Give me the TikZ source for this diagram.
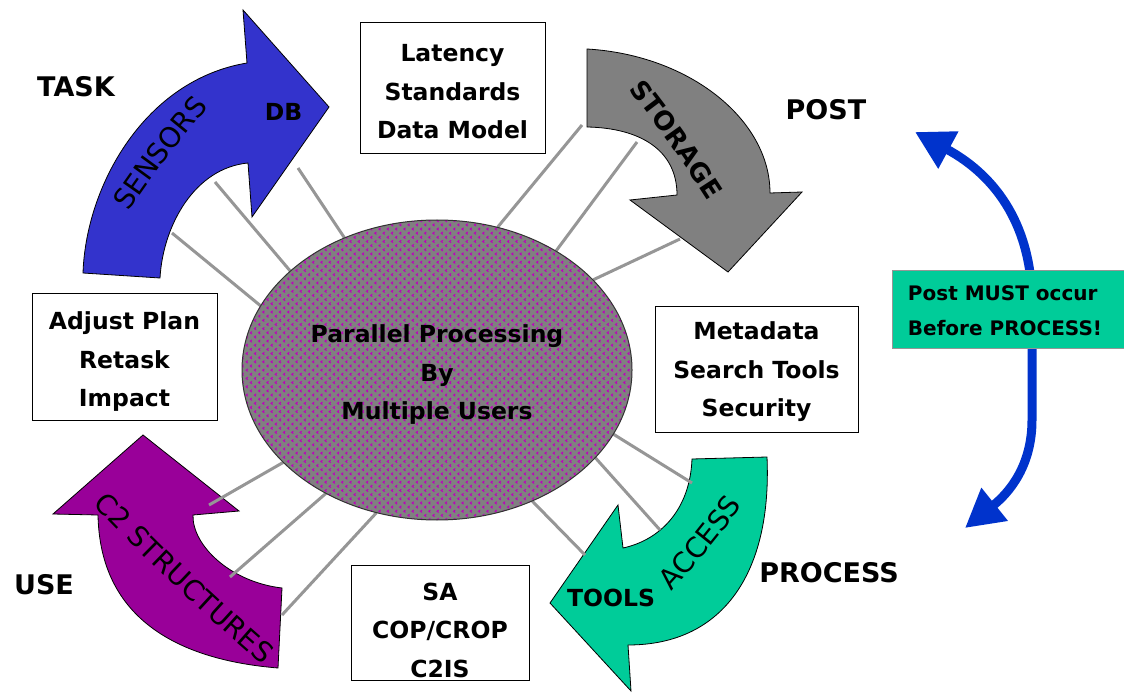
\documentclass[tikz,border=0pt]{standalone}
\usepackage{fontspec}
\setmainfont{DejaVu Sans}
\usetikzlibrary{arrows.meta,patterns.meta,decorations.text,shapes.geometric}

\definecolor{taskblue}{RGB}{51,51,204}
\definecolor{storgray}{RGB}{128,128,128}
\definecolor{usepurple}{RGB}{153,0,153}
\definecolor{procgreen}{RGB}{0,204,153}
\definecolor{linkblue}{RGB}{0,51,204}
\definecolor{spokegray}{RGB}{150,150,150}
\definecolor{dotpurple}{RGB}{190,0,190}

\newcommand\boxtextfont{\fontsize{23.5}{38.5}\selectfont\bfseries}
\newcommand\phaselabelfont{\fontsize{27}{30}\selectfont\bfseries}
\newcommand\bandfont{\fontsize{28}{30}\selectfont}
\newcommand\bandboldfont{\fontsize{26}{30}\selectfont\bfseries}
\newcommand\notefont{\fontsize{20}{35}\selectfont\bfseries}

% small staggered chevrons for the central ellipse
\tikzdeclarepattern{
  name=hubchevrons,
  type=uncolored,
  bottom left={(-0.5pt,-0.5pt)},
  top right={(8.8pt,8.8pt)},
  tile size={(8.3pt,8.3pt)},
  code={
    \draw[line width=1pt] (2.9pt,0.8pt) -- (1.3pt,2pt) -- (2.9pt,3.2pt);
    \draw[line width=1pt] (7.05pt,4.95pt) -- (5.45pt,6.15pt) -- (7.05pt,7.35pt);
  }
}

\begin{document}
\begin{tikzpicture}[x=1pt,y=-1pt,
  band/.style={draw=black, line width=0.8pt, line join=miter},
  spoke/.style={draw=spokegray, line width=3pt},
  infobox/.style={draw=black, line width=0.9pt, fill=white, inner sep=0pt},
  boxtext/.style={align=center, font=\boxtextfont, inner sep=0pt},
  phase/.style={font=\phaselabelfont, inner sep=0pt},
  tag/.style={font=\boxtextfont, inner sep=0pt},
  link/.style={draw=linkblue, line width=9pt,
    {Triangle[length=38pt,width=40pt]}-{Triangle[length=38pt,width=40pt]}},
  bandtext/.style={decorate, decoration={text along path, text align=center, raise=-10pt}}
]
\useasboundingbox (0,0) rectangle (1124,700);
\fill[white] (0,0) rectangle (1124,700);

% ---- ordering link and its note ----
\coordinate (ltop) at (915,132);
\coordinate (lbot) at (965,528);
\draw[link] (ltop) .. controls (1000,178) and (1031,230) .. (1032,300)
  -- (1032,420) .. controls (1032,465) and (1010,492) .. (lbot);
\node[draw=spokegray, line width=1pt, fill=procgreen, minimum width=232pt,
  minimum height=78pt, inner sep=0pt] (note) at (1008,310) {};
\node[font=\notefont, align=left, inner sep=0pt] (notetext) at (1005,311)
  {Post MUST occur\\Before PROCESS!};

% ---- the four curved phase arrows ----
% TASK (blue)
\fill[taskblue, band] (83,273) .. controls (86,185) and (145,80) .. (247,63)
  -- (243,10) -- (329,107) -- (252,217) -- (248,163)
  .. controls (195,168) and (163,225) .. (160,278) -- cycle;
% POST (gray)
\fill[storgray, band] (587,49) .. controls (690,55) and (770,120) .. (770,193)
  -- (802,192) -- (728,272) -- (630,200) -- (677,195)
  .. controls (677,150) and (640,128) .. (587,127) -- cycle;
% USE (purple)
\fill[usepurple, band] (143,435) -- (239,511) -- (193,515)
  .. controls (192,545) and (230,582) .. (282,588) -- (278,668)
  .. controls (180,660) and (100,620) .. (98,515) -- (53,514) -- cycle;
% PROCESS (green)
\fill[procgreen, band] (692,459) -- (767,457)
  .. controls (772,570) and (725,645) .. (628,645) -- (631,691) -- (550,603)
  -- (618,505) -- (623,548) .. controls (660,540) and (690,510) .. (692,459) -- cycle;

% ---- central hub and its spokes ----
\node[ellipse, minimum width=390pt, minimum height=300pt, inner sep=0pt] (hub) at (437,370) {};

\coordinate (s1) at (172,233);
\coordinate (s2) at (215,182);
\coordinate (s3) at (298,168);
\coordinate (s4) at (582,125);
\coordinate (s5) at (637,142);
\coordinate (s6) at (680,239);
\coordinate (s7) at (692,483);
\coordinate (s8) at (660,530);
\coordinate (s9) at (585,555);
\coordinate (s10) at (209,505);
\coordinate (s11) at (230,577);
\coordinate (s12) at (282,615);

\draw[spoke] (s1) -- (hub.160.4);
\draw[spoke] (s2) -- (hub.146.7);
\draw[spoke] (s3) -- (hub.125.3);
\draw[spoke] (s4) -- (hub.67.2);
\draw[spoke] (s5) -- (hub.45.2);
\draw[spoke] (s6) -- (hub.30);
\draw[spoke] (s7) -- (hub.-20.4);
\draw[spoke] (s8) -- (hub.-29.4);
\draw[spoke] (s9) -- (hub.-54.4);
\draw[spoke] (s10) -- (hub.211.2);
\draw[spoke] (s11) -- (hub.228.5);
\draw[spoke] (s12) -- (hub.247.1);

\path[fill=storgray] (hub.center) ellipse [x radius=195, y radius=150];
\path[pattern=hubchevrons, pattern color=dotpurple] (hub.center) ellipse [x radius=195, y radius=150];
\draw[black!80, line width=1pt] (hub.center) ellipse [x radius=195, y radius=150];
\node[boxtext] (hubtext) at (437,375)
  {Parallel Processing\\By\\Multiple Users};

% ---- information boxes ----
\node[infobox, minimum width=185pt, minimum height=131pt] (lat) at (452.5,87.5) {};
\node[boxtext] (lattext) at (452.5,92) {Latency\\Standards\\Data Model};
\node[infobox, minimum width=185pt, minimum height=127pt] (adj) at (124.5,357) {};
\node[boxtext] (adjtext) at (124.5,362) {Adjust Plan\\Retask\\Impact};
\node[infobox, minimum width=203pt, minimum height=126pt] (meta) at (756.5,369) {};
\node[boxtext] (metatext) at (756.5,372) {Metadata\\Search Tools\\Security};
\node[infobox, minimum width=178pt, minimum height=115pt] (sa) at (440,623) {};
\node[boxtext] (satext) at (440,630) {SA\\COP/CROP\\C2IS};

% ---- phase labels ----
\node[phase] (task) at (76,87) {TASK};
\node[phase] (post) at (826,110) {POST};
\node[phase] (use) at (44,585) {USE};
\node[phase] (process) at (829,573) {PROCESS};

% ---- words on the arrows ----
\node[tag] (db) at (283.5,112) {DB};
\node[tag] (tools) at (611,598) {TOOLS};
\path[bandtext, decoration={text={|\bandfont|SENSORS}}]
  (100,238) .. controls (137,178) and (179,123) .. (226,72);
\path[bandtext, decoration={text={|\bandboldfont|STORAGE}}]
  (617,59) .. controls (660,110) and (698,165) .. (733,222);
\path[bandtext, decoration={text={|\bandfont|C2 STRUCTURES}}]
  (85,481) .. controls (148,549) and (215,612) .. (286,672);
\path[bandtext, decoration={text={|\bandfont|ACCESS}}]
  (643,607) .. controls (683,566) and (720,521) .. (752,474);
\end{tikzpicture}
\end{document}
